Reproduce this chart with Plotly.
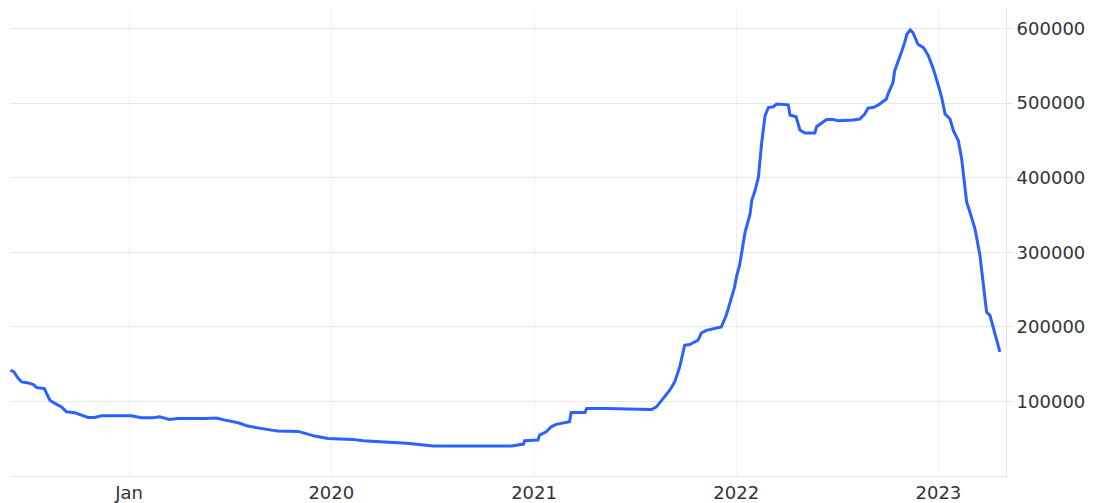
import plotly.graph_objects as go

dates = [
    "2018-06-01", "2018-06-07", "2018-06-15", "2018-06-21", "2018-07-03", "2018-07-12",
    "2018-07-18", "2018-08-01", "2018-08-05", "2018-08-11", "2018-08-20", "2018-09-01",
    "2018-09-10", "2018-09-25", "2018-10-07", "2018-10-19", "2018-10-31", "2018-11-12",
    "2019-01-05", "2019-01-23", "2019-02-13", "2019-02-25", "2019-03-15", "2019-03-30",
    "2019-05-18", "2019-06-08", "2019-06-23", "2019-07-17", "2019-08-03", "2019-08-28",
    "2019-09-15", "2019-09-27", "2019-11-02", "2019-11-20", "2019-12-02", "2019-12-26",
    "2020-01-07", "2020-02-09", "2020-02-27", "2020-04-10", "2020-05-16", "2020-07-03",
    "2020-11-22", "2020-12-13", "2020-12-15", "2021-01-08", "2021-01-11", "2021-01-23",
    "2021-02-01", "2021-02-10", "2021-02-25", "2021-03-06", "2021-03-09", "2021-04-03",
    "2021-04-06", "2021-05-12", "2021-07-29", "2021-08-01", "2021-08-10", "2021-08-22",
    "2021-09-03", "2021-09-12", "2021-09-21", "2021-09-30", "2021-10-09", "2021-10-24",
    "2021-10-30", "2021-11-08", "2021-11-23", "2021-12-05", "2021-12-14", "2021-12-20",
    "2021-12-29", "2022-01-02", "2022-01-07", "2022-01-17", "2022-01-26", "2022-01-29",
    "2022-02-04", "2022-02-10", "2022-02-16", "2022-02-22", "2022-02-28", "2022-03-09",
    "2022-03-15", "2022-04-05", "2022-04-08", "2022-04-19", "2022-04-26", "2022-05-05",
    "2022-05-23", "2022-05-26", "2022-06-04", "2022-06-13", "2022-06-25", "2022-07-04",
    "2022-07-31", "2022-08-12", "2022-08-21", "2022-08-27", "2022-09-05", "2022-09-14",
    "2022-09-23", "2022-09-29", "2022-10-02", "2022-10-11", "2022-10-14", "2022-10-20",
    "2022-10-26", "2022-11-01", "2022-11-05", "2022-11-11", "2022-11-16", "2022-11-25",
    "2022-12-05", "2022-12-14", "2022-12-23", "2023-01-01", "2023-01-07", "2023-01-13",
    "2023-01-22", "2023-01-28", "2023-02-06", "2023-02-12", "2023-02-21", "2023-02-27",
    "2023-03-08", "2023-03-17", "2023-03-29", "2023-04-04", "2023-04-22",
]

values = [
    142000, 139500, 130700, 126200, 124800, 122700,
    118700, 117300, 110700, 101700, 97300, 92700,
    86000, 84700, 81600, 78500, 78500, 80700,
    80700, 78000, 78000, 79300, 75900, 77200,
    77200, 77600, 74900, 71300, 66900, 63300,
    61500, 60200, 59800, 56200, 53500, 50400,
    49900, 49100, 47200, 45500, 43800, 40100,
    40100, 42800, 47200, 48200, 54900, 59300,
    66000, 69200, 71300, 72700, 85200, 85200,
    90600, 90600, 89200, 89200, 92700, 104000,
    115100, 126200, 146200, 175300, 176200, 182000,
    191700, 195300, 197600, 199800, 215400, 231100,
    253300, 268900, 282300, 326900, 351500, 369300,
    382700, 400500, 447300, 483000, 494100, 495100,
    498700, 497700, 484000, 481700, 463900, 459900,
    459900, 468300, 472700, 478100, 478100, 476300,
    477300, 478600, 485300, 493300, 494100, 497300,
    502200, 505400, 512000, 527600, 543200, 554300,
    567700, 581100, 592300, 598100, 594500, 578900,
    574400, 563300, 545500, 523200, 507500, 485300,
    478600, 462900, 449600, 425100, 367000, 353600,
    331400, 295700, 219800, 215400, 166300,
]

x_tick_vals = ["2019-01-01", "2020-01-01", "2021-01-01", "2022-01-01", "2023-01-01"]
x_tick_text = ["Jan", "2020", "2021", "2022", "2023"]
y_tick_vals = [100000, 200000, 300000, 400000, 500000, 600000]
y_tick_text = ["100000", "200000", "300000", "400000", "500000", "600000"]

fig = go.Figure()
fig.add_trace(go.Scatter(
    x=dates, y=values, mode="lines",
    line=dict(color="#2b62ff", width=3),
    showlegend=False,
))

tick_font = dict(family="DejaVu Sans, Liberation Sans, Arial, sans-serif", size=18, color="#333333")

fig.update_layout(
    width=1093, height=495,
    margin=dict(l=2, r=95, t=0, b=27),
    paper_bgcolor="white", plot_bgcolor="white",
    xaxis=dict(
        type="date",
        range=["2018-05-31", "2023-05-03"],
        tickvals=x_tick_vals, ticktext=x_tick_text,
        showgrid=True, gridcolor="#eef1f6", gridwidth=1,
        showline=True, linecolor="#e6e6e6", linewidth=1,
        ticks="", tickfont=tick_font, zeroline=False,
    ),
    yaxis=dict(
        side="right",
        range=[0, 627500],
        tickvals=y_tick_vals, ticktext=y_tick_text,
        showgrid=True, gridcolor="#e8e8e8", gridwidth=1,
        showline=True, linecolor="#e6e6e6", linewidth=1,
        ticks="outside", ticklen=6, tickcolor="#e6e6e6",
        tickfont=tick_font, zeroline=False,
    ),
)

fig.write_html("out.html")
